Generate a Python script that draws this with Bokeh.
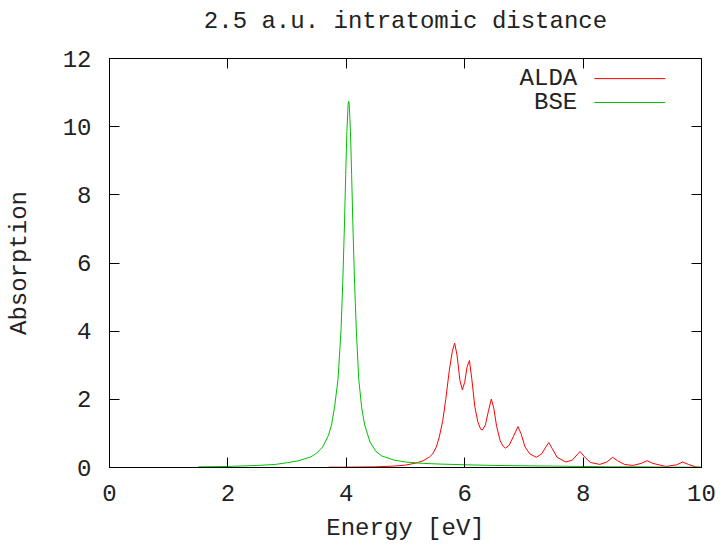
from bokeh.plotting import figure
from bokeh.models import Range1d, LinearAxis, FixedTicker, Label, CustomLabelingPolicy
from bokeh.embed import file_html
from bokeh.resources import INLINE

# ---- data ----
bse_x = [1.5, 2.0, 2.5, 2.8, 3.0, 3.2, 3.4, 3.5, 3.6, 3.7, 3.75, 3.8, 3.86, 3.91, 3.94,
         3.97, 3.99, 4.01, 4.03, 4.04, 4.05, 4.07, 4.09, 4.11, 4.14, 4.17, 4.21, 4.26,
         4.31, 4.4, 4.5, 4.6, 4.8, 5.0, 5.3, 5.6, 6.0, 6.5, 7.0, 7.5, 8.0, 8.5, 9.0,
         9.5, 10.0]
bse_y = [0.02, 0.03, 0.06, 0.09, 0.14, 0.2, 0.31, 0.42, 0.6, 0.95, 1.25, 1.75, 2.58,
         4.0, 5.4, 7.2, 8.6, 9.86, 10.64, 10.75, 10.64, 9.86, 8.6, 7.2, 5.4, 4.0, 2.6,
         1.75, 1.25, 0.75, 0.47, 0.34, 0.22, 0.16, 0.12, 0.1, 0.08, 0.06, 0.05, 0.04,
         0.03, 0.02, 0.02, 0.01, 0.01]

alda_x = [3.7, 4.0, 4.5, 4.8, 5.0, 5.2, 5.3, 5.4, 5.46, 5.52, 5.57, 5.63, 5.68, 5.74,
          5.79, 5.83, 5.87, 5.92, 5.96, 6.0, 6.04, 6.08, 6.12, 6.17, 6.22, 6.27, 6.3,
          6.35, 6.4, 6.45, 6.49, 6.54, 6.6, 6.65, 6.69, 6.75, 6.82, 6.9, 6.95, 7.02,
          7.1, 7.21, 7.3, 7.37, 7.42, 7.48, 7.56, 7.71, 7.82, 7.9, 7.95, 8.02, 8.12,
          8.28, 8.4, 8.5, 8.58, 8.7, 8.84, 8.98, 9.08, 9.18, 9.4, 9.58, 9.68, 9.78,
          9.9, 10.0]
alda_y = [0.01, 0.01, 0.02, 0.04, 0.07, 0.14, 0.2, 0.3, 0.4, 0.6, 0.89, 1.38, 2.0,
          2.85, 3.4, 3.65, 3.3, 2.55, 2.28, 2.5, 2.95, 3.14, 2.6, 1.8, 1.35, 1.12, 1.1,
          1.25, 1.65, 2.01, 1.75, 1.2, 0.78, 0.62, 0.57, 0.65, 0.9, 1.2, 1.0, 0.6, 0.4,
          0.3, 0.4, 0.6, 0.73, 0.55, 0.3, 0.16, 0.22, 0.38, 0.47, 0.32, 0.15, 0.09,
          0.16, 0.3, 0.2, 0.09, 0.06, 0.12, 0.2, 0.12, 0.03, 0.08, 0.16, 0.09, 0.02, 0.0]

x_ticks = [0, 2, 4, 6, 8, 10]
y_ticks = [0, 2, 4, 6, 8, 10, 12]

title_text = "2.5 a.u. intratomic distance"
x_label = "Energy [eV]"
y_label = "Absorption"
series_names = ["ALDA", "BSE"]

FONT = "Liberation Mono"
FS = "24px"
TXT = "#222222"
RED = "#ff0000"
GREEN = "#00c000"

p = figure(width=721, height=530, output_backend="svg", toolbar_location=None,
           x_range=Range1d(0, 10), y_range=Range1d(0, 12),
           frame_width=592, frame_height=409,
           min_border_left=109, min_border_right=20, min_border_top=58,
           min_border_bottom=63, x_axis_type=None, y_axis_type=None)
p.grid.visible = False
p.outline_line_color = "black"
p.outline_line_width = 1
p.background_fill_color = "white"
p.border_fill_color = "white"

no_labels = CustomLabelingPolicy(code="""
const n = indices.size
for (let i = 0; i < n; i++) indices.unset(i)
return indices
""")

def style_axis(ax, labels=True):
    ax.axis_line_color = "black"
    ax.major_tick_line_color = "black"
    ax.major_tick_in = 10
    ax.major_tick_out = 0
    ax.minor_tick_line_color = None
    ax.major_label_text_font = FONT
    ax.major_label_text_color = TXT
    ax.axis_label_text_font = FONT
    ax.axis_label_text_font_style = "normal"
    ax.axis_label_text_color = TXT
    ax.major_label_text_font_size = FS
    ax.axis_label_text_font_size = FS
    if not labels:
        ax.major_label_policy = no_labels
        ax.major_label_text_font_size = "1px"
        ax.major_label_standoff = 0

xb = LinearAxis(ticker=FixedTicker(ticks=x_ticks), axis_label=x_label)
style_axis(xb)
xb.major_label_standoff = 17
xb.axis_label_standoff = 11
p.add_layout(xb, "below")

yl = LinearAxis(ticker=FixedTicker(ticks=y_ticks), axis_label=y_label)
style_axis(yl)
yl.major_label_standoff = 18
yl.axis_label_standoff = 27
p.add_layout(yl, "left")

# mirrored top axis; the chart title is carried as its label
xt = LinearAxis(ticker=FixedTicker(ticks=x_ticks), axis_label=title_text)
style_axis(xt, labels=False)
xt.axis_label_standoff = 20
p.add_layout(xt, "above")
yr = LinearAxis(ticker=FixedTicker(ticks=y_ticks))
style_axis(yr, labels=False)
p.add_layout(yr, "right")

p.line(alda_x, alda_y, line_color=RED, line_width=1)
p.line(bse_x, bse_y, line_color=GREEN, line_width=1)

# legend (gnuplot style: label on the left, sample line on the right)
leg_text_x = 7.9
leg_line = (8.19, 9.39)
leg_rows = [11.41, 10.71]
for name, yy, col in zip(series_names, leg_rows, [RED, GREEN]):
    p.add_layout(Label(x=leg_text_x, y=yy, text=name, text_align="right",
                       text_baseline="middle", text_font=FONT, text_font_size=FS,
                       text_color=TXT))
    p.line(list(leg_line), [yy, yy], line_color=col, line_width=1)

open("out.html", "w").write(file_html(p, INLINE))
